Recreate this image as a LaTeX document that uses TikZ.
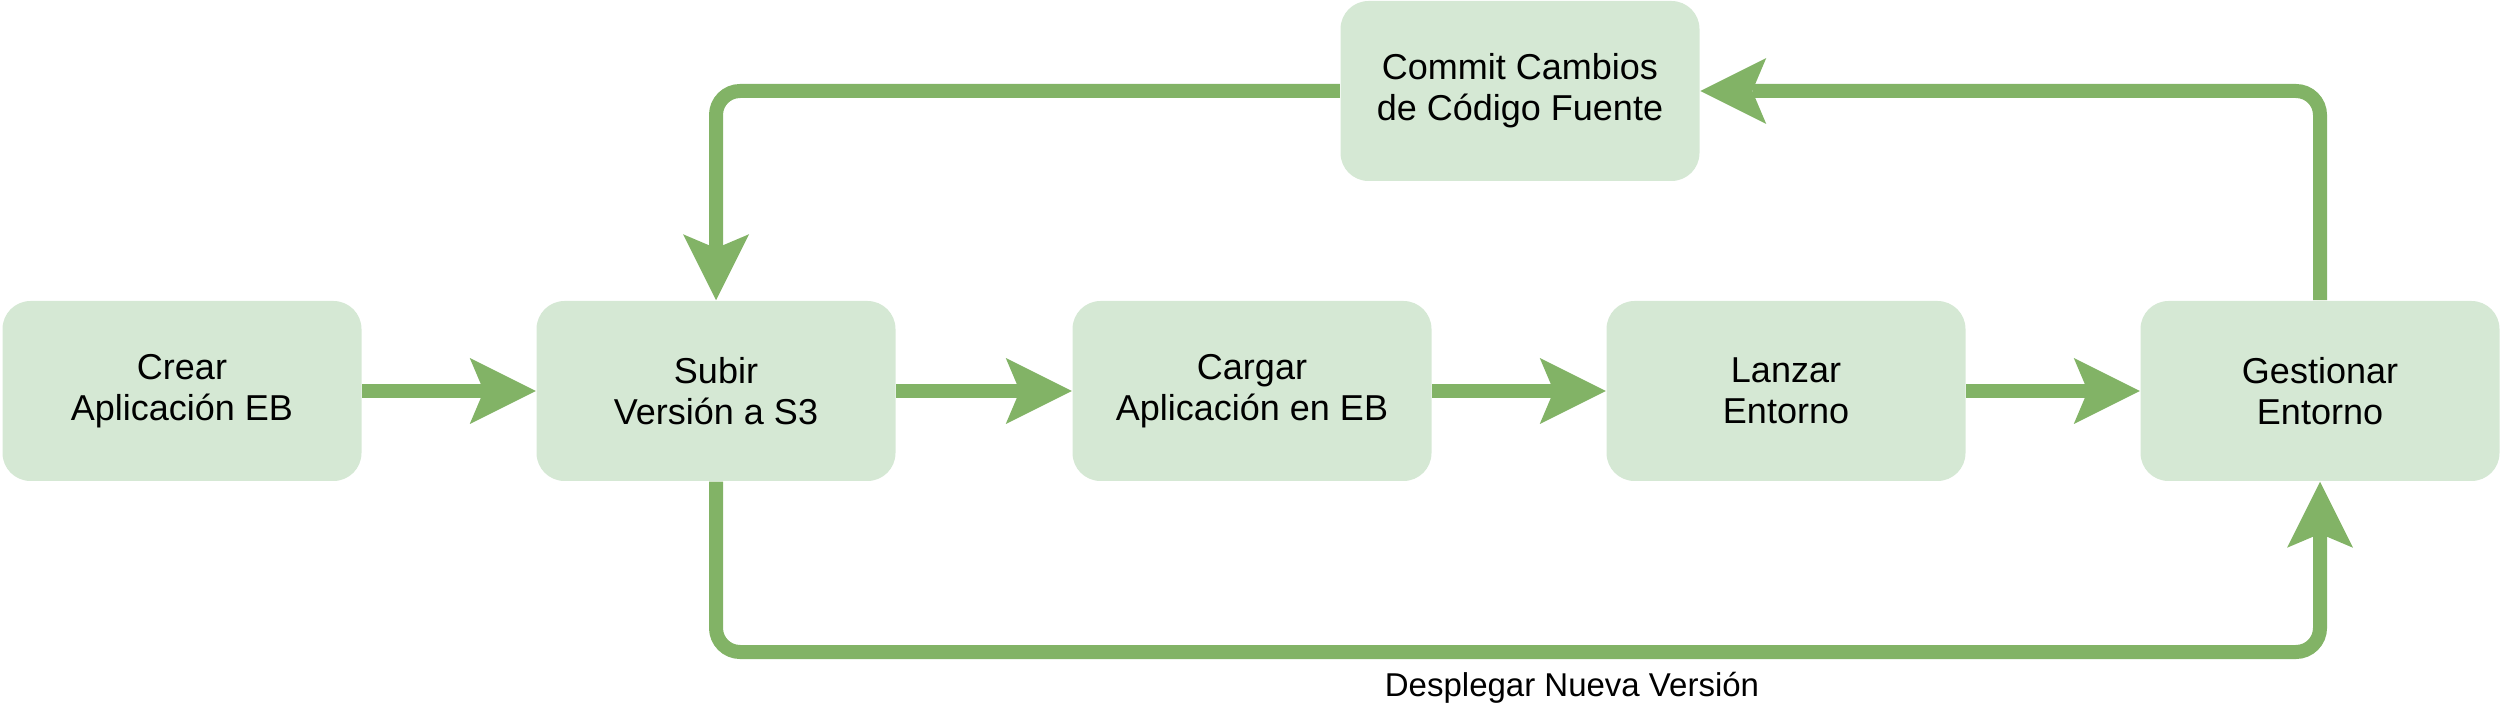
\documentclass[tikz,border=0pt]{standalone}
\usepackage{fontspec}
\setmainfont{Liberation Sans}
\usetikzlibrary{arrows.meta}
\definecolor{stepfill}{HTML}{D5E8D4}
\definecolor{flowgreen}{HTML}{82B366}
\tikzset{every picture/.style={line width=0.75pt}}

\begin{document}
\begin{tikzpicture}[x=0.5pt,y=0.5pt,yscale=-1,xscale=1,
  stepbox/.style={draw=none,fill=stepfill,rounded corners=14pt,minimum width=179.5pt,minimum height=90pt,inner sep=0pt,align=center,font=\fontsize{18}{20.5}\selectfont},
  flow/.style={draw=flowgreen,line width=7pt,rounded corners=12pt,-{Stealth[length=33pt,width=33pt,inset=7pt,line width=0pt]}}]
%set diagram left start at 0, and has height of 705
\useasboundingbox (0,0) rectangle (2502,705);

%Rounded Rect
\node [stepbox] (crear) at (182,391) {Crear\\Aplicación EB};
%Rounded Rect
\node [stepbox] (subir) at (716,391) {Subir\\Versión a S3};
%Rounded Rect
\node [stepbox] (cargar) at (1252,391) {Cargar\\Aplicación en EB};
%Rounded Rect
\node [stepbox] (lanzar) at (1786,391) {Lanzar\\Entorno};
%Rounded Rect
\node [stepbox] (gestion) at (2320,391) {Gestionar\\Entorno};
%Rounded Rect
\node [stepbox] (commit) at (1520,91) {Commit Cambios\\de Código Fuente};

%Straight Lines
\draw [flow] (crear) -- (subir);
%Straight Lines
\draw [flow] (subir) -- (cargar);
%Straight Lines
\draw [flow] (cargar) -- (lanzar);
%Straight Lines
\draw [flow] (lanzar) -- (gestion);

%Loop back
\draw [flow] (gestion.north) |- (commit.east);
\draw [flow] (commit.west) -| (subir.north);

%Deploy line
\coordinate (deployend) at (2320,652);
\draw [flow] (subir.south) |- (deployend) -- (gestion.south);

% Text Node
\node [anchor=base,inner sep=0pt,font=\fontsize{16.5}{19}\selectfont] (deploy) at (1572,696) {Desplegar Nueva Versión};

\end{tikzpicture}
\end{document}
